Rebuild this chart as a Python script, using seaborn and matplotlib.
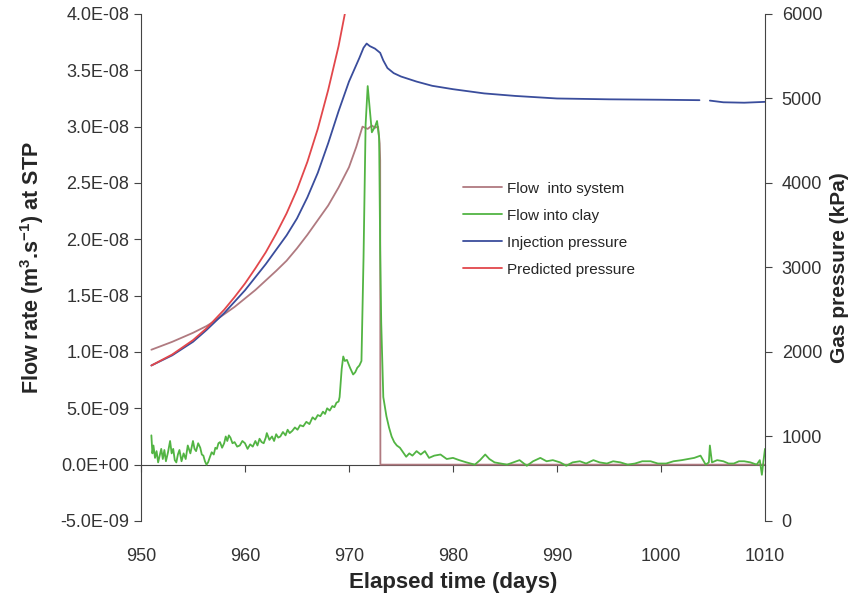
import numpy as np
import pandas as pd
import matplotlib
matplotlib.use('Agg')
import matplotlib.pyplot as plt
import seaborn as sns
from matplotlib.ticker import FuncFormatter, MultipleLocator
from matplotlib.lines import Line2D

# Flow into system (m3/s, read in units of 1e-8)
sys_days = [951.0, 953.0, 955.0, 956.3, 957.0, 959.0, 961.0, 963.0, 964.0, 965.0, 966.0, 967.0,
            968.0, 969.0, 970.0, 970.7, 971.3, 971.8, 972.2, 972.5, 972.8, 972.95, 973.0, 973.02,
            990.0, 1010.0]
sys_flow = [1.02, 1.09, 1.17, 1.23, 1.27, 1.40, 1.55, 1.72, 1.81, 1.92, 2.04, 2.17,
            2.30, 2.46, 2.64, 2.82, 3.00, 2.98, 3.01, 2.99, 3.00, 2.85, 2.70, 0.0,
            0.0, 0.0]

# Flow into clay (units of 1e-8)
clay_days = [951.0, 951.1, 951.2, 951.35, 951.5, 951.65, 951.8, 951.95, 952.1, 952.25, 952.4, 952.6,
             952.8, 952.95, 953.1, 953.25, 953.4, 953.55, 953.7, 953.9, 954.1, 954.3, 954.5, 954.75,
             955.0, 955.15, 955.3, 955.5, 955.7, 955.85, 956.0, 956.15, 956.3, 956.45, 956.6, 956.8,
             957.0, 957.15, 957.3, 957.45, 957.6, 957.8, 958.0, 958.15, 958.3, 958.45, 958.6, 958.8,
             959.0, 959.25, 959.5, 959.75, 960.0, 960.25, 960.5, 960.75, 961.0, 961.2, 961.4, 961.6,
             961.8, 962.0, 962.1, 962.35, 962.6, 962.8, 963.0, 963.2, 963.4, 963.65, 963.9, 964.1,
             964.3, 964.55, 964.8, 965.05, 965.3, 965.6, 965.9, 966.2, 966.5, 966.75, 967.0, 967.25,
             967.5, 967.7, 967.9, 968.15, 968.4, 968.6, 968.8, 969.0, 969.1, 969.3, 969.45, 969.6,
             969.8, 970.1, 970.4, 970.6, 970.8, 971.0, 971.2, 971.4, 971.6, 971.8, 972.0, 972.2,
             972.5, 972.7, 972.9, 973.0, 973.1, 973.3, 973.6, 973.85, 974.1, 974.35, 974.6, 974.9,
             975.2, 975.5, 975.8, 976.1, 976.5, 976.9, 977.3, 977.7, 978.2, 978.8, 979.4, 980.0,
             980.6, 981.3, 982.1, 982.6, 983.1, 983.5, 984.0, 984.6, 985.2, 985.8, 986.4, 987.1,
             987.7, 988.4, 989.0, 989.6, 990.3, 990.9, 991.5, 992.2, 992.8, 993.5, 994.1, 994.8,
             995.4, 996.1, 996.8, 997.5, 998.2, 999.0, 999.7, 1000.5, 1001.2, 1002.0, 1002.6, 1003.2,
             1003.8, 1004.3, 1004.6, 1004.7, 1004.9, 1005.4, 1006.0, 1006.5, 1007.0, 1007.5, 1008.0, 1008.6,
             1009.2, 1009.5, 1009.7, 1009.85, 1010.0]
clay_flow = [0.26, 0.10, 0.17, 0.06, 0.12, 0.02, 0.08, 0.14, 0.05, 0.13, 0.03, 0.11,
             0.21, 0.10, 0.14, 0.04, 0.02, 0.09, 0.13, 0.03, 0.10, 0.05, 0.17, 0.10,
             0.21, 0.14, 0.12, 0.19, 0.15, 0.09, 0.08, 0.03, 0.00, 0.02, 0.06, 0.11,
             0.09, 0.15, 0.14, 0.19, 0.20, 0.15, 0.19, 0.25, 0.21, 0.26, 0.24, 0.19,
             0.20, 0.16, 0.17, 0.21, 0.19, 0.14, 0.18, 0.16, 0.21, 0.17, 0.23, 0.20,
             0.19, 0.24, 0.28, 0.22, 0.25, 0.21, 0.27, 0.24, 0.25, 0.29, 0.26, 0.31,
             0.28, 0.30, 0.33, 0.31, 0.35, 0.34, 0.38, 0.36, 0.42, 0.40, 0.44, 0.43,
             0.47, 0.45, 0.50, 0.48, 0.52, 0.51, 0.55, 0.56, 0.60, 0.85, 0.96, 0.92,
             0.93, 0.86, 0.80, 0.82, 0.86, 0.88, 0.92, 1.84, 3.02, 3.36, 3.16, 2.95,
             3.00, 3.05, 2.90, 1.90, 1.26, 0.60, 0.43, 0.33, 0.25, 0.20, 0.17, 0.15,
             0.11, 0.07, 0.10, 0.08, 0.12, 0.09, 0.12, 0.06, 0.08, 0.09, 0.05, 0.06,
             0.04, 0.02, 0.00, 0.04, 0.09, 0.05, 0.02, 0.01, 0.00, 0.02, 0.04, -0.01,
             0.03, 0.06, 0.03, 0.04, 0.02, -0.01, 0.02, 0.03, 0.01, 0.04, 0.02, 0.01,
             0.03, 0.02, 0.00, 0.01, 0.03, 0.03, 0.01, 0.01, 0.03, 0.04, 0.05, 0.06,
             0.08, 0.00, 0.02, 0.17, 0.02, 0.04, 0.03, 0.01, 0.01, 0.03, 0.03, 0.02,
             0.00, 0.04, -0.09, 0.03, 0.14]

# Injection pressure (kPa) - gap in logging near day 1004
inj_days = [951.0, 953.0, 955.0, 956.3, 958.0, 960.0, 962.0, 964.0, 965.0, 966.0, 967.0, 968.0,
            969.0, 970.0, 971.0, 971.4, 971.7, 972.0, 972.5, 973.0, 973.3, 973.7, 974.3, 975.0,
            976.5, 978.0, 980.0, 983.0, 986.0, 990.0, 995.0, 1000.0, 1003.7, 1004.7, 1006.0, 1008.0,
            1010.0]
inj_kpa = [1840, 1960, 2120, 2260, 2460, 2730, 3040, 3380, 3580, 3830, 4120, 4470,
           4850, 5200, 5480, 5600, 5650, 5620, 5590, 5540, 5450, 5360, 5300, 5260,
           5200, 5150, 5110, 5060, 5030, 5000, 4990, 4985, 4980, 4975, 4955, 4950,
           4960]
inj_gap = 33  # index where the second segment starts

# Predicted pressure (kPa)
pred_days = [951.0, 953.0, 955.0, 956.3, 958.0, 959.0, 960.0, 961.0, 962.0, 963.0, 964.0, 965.0,
             966.0, 967.0, 968.0, 969.0, 969.6]
pred_kpa = [1840, 1970, 2140, 2280, 2500, 2650, 2810, 2990, 3180, 3400, 3640, 3920,
            4250, 4640, 5100, 5620, 6000]

labels = ['Flow  into system', 'Flow into clay', 'Injection pressure', 'Predicted pressure']
colors = ['#b07a80', '#52b443', '#3a4d9c', '#e2474b']

sns.set_style('ticks')
plt.rcParams['font.family'] = ['Liberation Sans', 'DejaVu Sans']
plt.rcParams['mathtext.fontset'] = 'custom'
plt.rcParams['mathtext.rm'] = 'Liberation Sans:bold'
plt.rcParams['mathtext.default'] = 'rm'

fig, ax = plt.subplots(figsize=(8.58, 6.0), dpi=100)
fig.subplots_adjust(left=0.1643, right=0.8916, top=0.9767, bottom=0.1317)
ax2 = ax.twinx()

df_sys = pd.DataFrame({'day': sys_days, 'flow': np.array(sys_flow) * 1e-8})
df_clay = pd.DataFrame({'day': clay_days, 'flow': np.array(clay_flow) * 1e-8})
df_inj = pd.DataFrame({'day': inj_days, 'p': inj_kpa})
df_pred = pd.DataFrame({'day': pred_days, 'p': pred_kpa})

lw = 1.3
sns.lineplot(data=df_sys, x='day', y='flow', ax=ax, color=colors[0], lw=lw, legend=False, zorder=3)
sns.lineplot(data=df_clay, x='day', y='flow', ax=ax, color=colors[1], lw=lw, legend=False, zorder=4)
sns.lineplot(data=df_inj.iloc[:inj_gap], x='day', y='p', ax=ax2, color=colors[2], lw=lw, legend=False)
sns.lineplot(data=df_inj.iloc[inj_gap:], x='day', y='p', ax=ax2, color=colors[2], lw=lw, legend=False)
sns.lineplot(data=df_pred, x='day', y='p', ax=ax2, color=colors[3], lw=lw, legend=False)

# Axes limits
ax.set_xlim(950, 1010)
ax.set_ylim(-5e-9, 4e-8)
ax2.set_ylim(0, 6000)

spine_col = '#444444'
# X axis drawn at flow = 0
ax.spines['bottom'].set_position(('data', 0))
ax.spines['top'].set_visible(False)
ax2.spines['top'].set_visible(False)
ax2.spines['bottom'].set_visible(False)
ax2.spines['left'].set_visible(False)
for s in ['bottom', 'left']:
    ax.spines[s].set_color(spine_col)
ax2.spines['right'].set_color(spine_col)
ax.spines['right'].set_visible(False)

ax.xaxis.set_major_locator(MultipleLocator(10))
ax.yaxis.set_major_locator(MultipleLocator(5e-9))
ax2.yaxis.set_major_locator(MultipleLocator(1000))
ax.yaxis.set_major_formatter(FuncFormatter(lambda v, p: f'{v:.1E}'))
ax2.yaxis.set_major_formatter(FuncFormatter(lambda v, p: f'{v:.0f}'))

tick_col = '#333333'
ax.tick_params(axis='x', direction='out', length=5, pad=55, labelsize=13, color=spine_col, labelcolor=tick_col)
ax.tick_params(axis='y', direction='out', length=5, labelsize=13, color=spine_col, labelcolor=tick_col)
ax2.tick_params(axis='y', direction='out', length=5, pad=7, labelsize=13, color=spine_col, labelcolor=tick_col)

ax.set_xlabel('Elapsed time (days)', fontsize=16, fontweight='bold', labelpad=5)
ax.set_ylabel(r'Flow rate (m$^{3}$.s$^{-1}$) at STP', fontsize=15.5, fontweight='bold', labelpad=10)
ax2.set_ylabel('Gas pressure (kPa)', fontsize=15, fontweight='bold', labelpad=6)

handles = [Line2D([], [], color=c, lw=lw) for c in colors]
ax.legend(handles, labels, loc='upper left', bbox_to_anchor=(0.524, 0.72), bbox_transform=fig.transFigure,
          frameon=False, fontsize=11, handlelength=2.5, handletextpad=0.35, labelspacing=0.85)

plt.savefig('out.png', dpi=100)
